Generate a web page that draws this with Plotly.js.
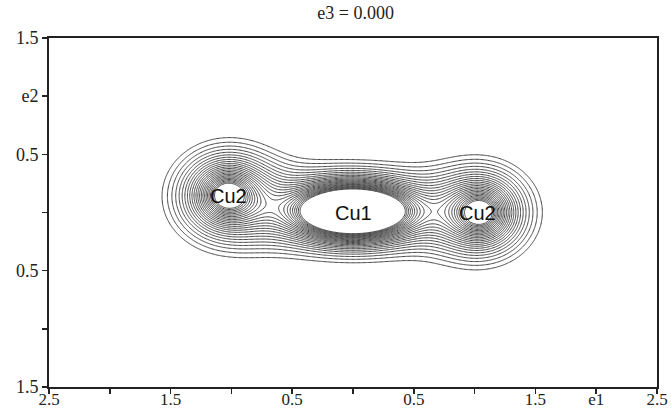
<!DOCTYPE html>
<html>
<head>
<meta charset="utf-8">
<script src="https://cdn.plot.ly/plotly-3.0.1.min.js"></script>
<style>html,body{margin:0;padding:0;background:#fff}#chart{width:671px;height:410px}</style>
</head>
<body>
<div id="chart"></div>
<script>
const atomNames = ['Cu1', 'Cu2', 'Cu2'];
const atomX = [0.0, -1.03, 1.045];
const atomY = [0.01, 0.15, 0.0];
const atomPeak = [4.3, 1.2, 1.18];
const atomWidthX = [0.275, 0.29, 0.275];
const atomWidthY = [0.128, 0.268, 0.262];
const atomShape = [1.0, 1.3, 1.3];
// label positions
const labelX = [0.0, -1.02, 1.02];
const labelY = [0.0, 0.14, 0.0];
// contour levels
const levelStart = 0.14, levelEnd = 1.0, levelStep = 0.036;
// axis ticks
const xTickVals = [-2.5, -2, -1.5, -1, -0.5, 0, 0.5, 1, 1.5, 2, 2.5];
const xTickText = ['2.5', '', '1.5', '', '0.5', '', '0.5', '', '1.5', 'e1', '2.5'];
const yTickVals = [-1.5, -1, -0.5, 0, 0.5, 1, 1.5];
const yTickText = ['1.5', '', '0.5', '', '0.5', 'e2', '1.5'];

const gx = [], gy = [];
for (let i = 0; i <= 500; i++) gx.push(-2.5 + i * 0.01);
for (let j = 0; j <= 300; j++) gy.push(-1.5 + j * 0.01);
const z = gy.map(y => gx.map(x => {
  let s = 0;
  for (let k = 0; k < atomX.length; k++) {
    const r = Math.sqrt(Math.pow((x - atomX[k]) / atomWidthX[k], 2) + Math.pow((y - atomY[k]) / atomWidthY[k], 2));
    s += atomPeak[k] * Math.exp(-Math.pow(r, atomShape[k]));
  }
  return s;
}));

const trace = {
  type: 'contour', x: gx, y: gy, z: z,
  showscale: false, hoverinfo: 'skip',
  contours: {coloring: 'none', start: levelStart, end: levelEnd, size: levelStep},
  line: {color: '#444', width: 1, smoothing: 0.8}
};

const serif = '"Liberation Serif", "Times New Roman", serif';
const axisFont = {family: serif, size: 17, color: '#222'};
const layout = {
  width: 671, height: 410,
  margin: {l: 49, r: 14, t: 38, b: 23},
  paper_bgcolor: '#fff', plot_bgcolor: '#fff',
  showlegend: false,
  title: {text: 'e3 = 0.000', font: {family: serif, size: 18, color: '#222'},
          x: 0.53, xanchor: 'center', yref: 'container', y: 0.968, yanchor: 'middle'},
  xaxis: {range: [-2.5, 2.5], tickvals: xTickVals, ticktext: xTickText, ticks: 'outside', ticklen: 5, tickwidth: 1.5,
          tickcolor: '#222', showgrid: false, zeroline: false, showline: true, linecolor: '#222', linewidth: 2, mirror: true,
          tickfont: axisFont, ticklabelstandoff: -9, fixedrange: true},
  yaxis: {range: [-1.5, 1.5], tickvals: yTickVals, ticktext: yTickText, ticks: 'outside', ticklen: 5, tickwidth: 1.5,
          tickcolor: '#222', showgrid: false, zeroline: false, showline: true, linecolor: '#222', linewidth: 2, mirror: true,
          tickfont: {family: serif, size: 18, color: '#222'}, fixedrange: true},
  annotations: atomNames.map((n, k) => ({x: labelX[k], y: labelY[k], xref: 'x', yref: 'y', text: n, showarrow: false,
    font: {family: '"Liberation Sans", Arial, sans-serif', size: 20, color: '#111'}}))
};
Plotly.newPlot('chart', [trace], layout, {displayModeBar: false, staticPlot: true});
</script>
</body>
</html>
